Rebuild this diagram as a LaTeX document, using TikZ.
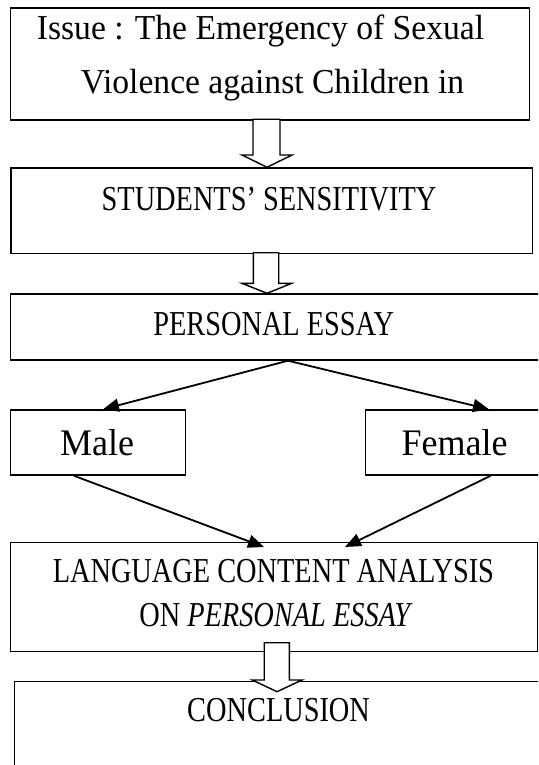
\documentclass[tikz,border=0pt]{standalone}
\usepackage{fontspec}
\setmainfont{Liberation Serif}
\newfontfamily\lcfont[FakeStretch=0.96]{Liberation Serif}
\newfontfamily\ucfont[FakeStretch=0.81]{Liberation Serif}
\usetikzlibrary{arrows.meta,calc}
\begin{document}
\begin{tikzpicture}[x=1pt,y=-1pt,
  box/.style={draw, line width=1.4pt, inner sep=0pt, anchor=north west},
  lbl/.style={anchor=base, inner sep=0pt},
  lc/.style={font=\lcfont\fontsize{35}{40}\selectfont},
  uc/.style={font=\ucfont\fontsize{35}{40}\selectfont},
  big/.style={font=\lcfont\fontsize{37.5}{42}\selectfont},
  conn/.style={line width=1.8pt, -{Triangle[length=16pt,width=13pt]}},
  hollow/.style={draw, fill=white, line width=1.4pt, line join=miter}]
\useasboundingbox (0,0) rectangle (538,765);
\fill[white] (0,0) rectangle (538,765);
\clip (0,0) rectangle (538,765);

% boxes
\node[box, minimum width=518.9pt, minimum height=112pt] (issue) at (9.6,7.3) {};
\node[box, minimum width=521.7pt, minimum height=85.4pt] (sens) at (10.3,167.3) {};
\node[box, minimum width=540pt, minimum height=66pt] (pe) at (9.6,293.3) {};
\node[box, minimum width=175pt, minimum height=65pt] (male) at (9.6,409.3) {};
\node[box, minimum width=190pt, minimum height=65pt] (female) at (364.8,409.3) {};
\node[box, minimum width=527pt, minimum height=109.3pt] (lang) at (9.6,541.7) {};
\node[box, minimum width=540pt, minimum height=120pt] (concl) at (13.7,680.7) {};

% texts
\node[lbl, lc] (t1) at (260.5,39.3) {Issue : The Emergency of Sexual};
\node[lbl, lc] (t2) at (272.5,93.3) {Violence against Children in};
\node[lbl, uc] (t3) at (269,210) {STUDENTS’ SENSITIVITY};
\node[lbl, uc] (t4) at (273.7,335.3) {PERSONAL ESSAY};
\node[lbl, big] (t5) at (97,455) {Male};
\node[lbl, big] (t6) at (454.5,455) {Female};
\node[lbl, uc] (t7) at (273.4,582.7) {LANGUAGE CONTENT ANALYSIS};
\node[lbl, uc] (t8) at (276,626.5) {ON \textit{PERSONAL ESSAY}};
\node[lbl, uc] (t9) at (278.6,721.7) {CONCLUSION};

% hollow block arrows
\draw[hollow] (253,119.3) -- (253,155) -- (242,155) -- (267,167.3) -- (292,155) -- (280,155) -- (280,119.3) -- cycle;
\draw[hollow] (253.3,252.7) -- (253.3,283.3) -- (242,283.3) -- (267,293.3) -- (291.7,283.3) -- (278.7,283.3) -- (278.7,252.7) -- cycle;
\draw[hollow] (264.2,642.7) -- (264.2,680) -- (252.2,680) -- (277,691.7) -- (302,680) -- (289.3,680) -- (289.3,642.7) -- cycle;

% connectors
\draw[conn] ([xshift=278.4pt]pe.south west) -- ([xshift=93.4pt]male.north west);
\draw[conn] ([xshift=278.4pt]pe.south west) -- ([xshift=124.2pt]female.north west);
\draw[conn] ([xshift=64.2pt]male.south west) -- ([xshift=254.4pt,yshift=-5.3pt]lang.north west);
\draw[conn] ([xshift=125.9pt]female.south west) -- ([xshift=335.4pt,yshift=-5.3pt]lang.north west);
\end{tikzpicture}
\end{document}
